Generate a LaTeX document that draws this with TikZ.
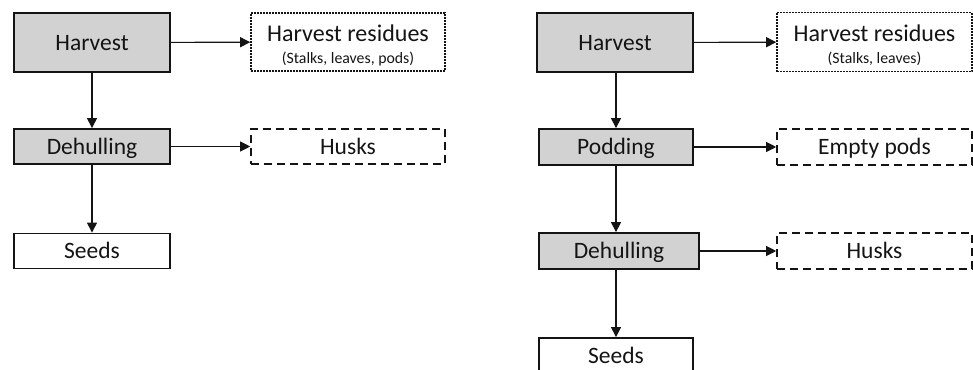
\documentclass[tikz,border=0pt]{standalone}
\usepackage{fontspec}
\setmainfont{Carlito}
\usetikzlibrary{arrows.meta}
\definecolor{boxgray}{RGB}{210,210,210}
\definecolor{ink}{RGB}{20,20,20}
\tikzset{
  base/.style={rectangle, draw=ink, line width=1.8pt, inner sep=0pt, text=ink,
    font=\fontsize{23.5}{24}\selectfont, text height=15.2pt, text depth=0pt},
  graybox/.style={base, fill=boxgray},
  whitebox/.style={base, fill=white},
  dotbox/.style={base, line width=1.6pt, dash pattern=on 1.6pt off 1.4pt, align=center,
    font=\fontsize{24}{22.5}\selectfont, text height=43pt, text depth=0pt},
  dashbox/.style={base, line width=1.6pt, dash pattern=on 8pt off 5pt},
  conn/.style={draw=ink, line width=1.1pt, -{Triangle[length=10pt,width=10pt]}}
}
\newcommand{\subtxt}[1]{{\fontsize{15.8}{16}\selectfont #1}}
\begin{document}
\begin{tikzpicture}[x=1pt,y=-1pt]
\useasboundingbox (0,0) rectangle (973,369);
% left panel
\node[graybox, minimum width=156pt, minimum height=59pt] (h1) at (92,42.5) {Harvest};
\node[dotbox, minimum width=194pt, minimum height=58pt] (r1) at (348,42) {Harvest residues\\\subtxt{(Stalks, leaves, pods)}};
\node[graybox, minimum width=156pt, minimum height=35pt] (d1) at (92,146.5) {Dehulling};
\node[dashbox, minimum width=194pt, minimum height=35pt] (k1) at (348,146.5) {Husks};
\node[whitebox, minimum width=156pt, minimum height=35pt] (s1) at (92,251) {Seeds};
\draw[conn] (h1) -- (d1);
\draw[conn] (d1) -- (s1);
\draw[conn] (h1) -- (r1);
\draw[conn] (d1) -- (k1);
% right panel
\node[graybox, minimum width=156pt, minimum height=59pt] (h2) at (615,42.5) {Harvest};
\node[dotbox, minimum width=195pt, minimum height=59pt] (r2) at (874.5,42) {Harvest residues\\\subtxt{(Stalks, leaves)}};
\node[graybox, minimum width=154pt, minimum height=36pt] (p2) at (616,147) {Podding};
\node[dashbox, minimum width=195pt, minimum height=36pt] (e2) at (874.5,147) {Empty pods};
\node[graybox, minimum width=160pt, minimum height=36pt] (d2) at (619,251) {Dehulling};
\node[dashbox, minimum width=195pt, minimum height=36pt] (k2) at (874.5,251) {Husks};
\node[whitebox, minimum width=154pt, minimum height=36pt] (s2) at (616,356) {Seeds};
\draw[conn] (h2.south -| p2.south) -- (p2.north);
\draw[conn] (p2.south) -- (p2.south |- d2.north);
\draw[conn] (s2.north |- d2.south) -- (s2.north);
\draw[conn] (h2) -- (r2);
\draw[conn] (p2) -- (e2);
\draw[conn] (d2) -- (k2);
\end{tikzpicture}
\end{document}
